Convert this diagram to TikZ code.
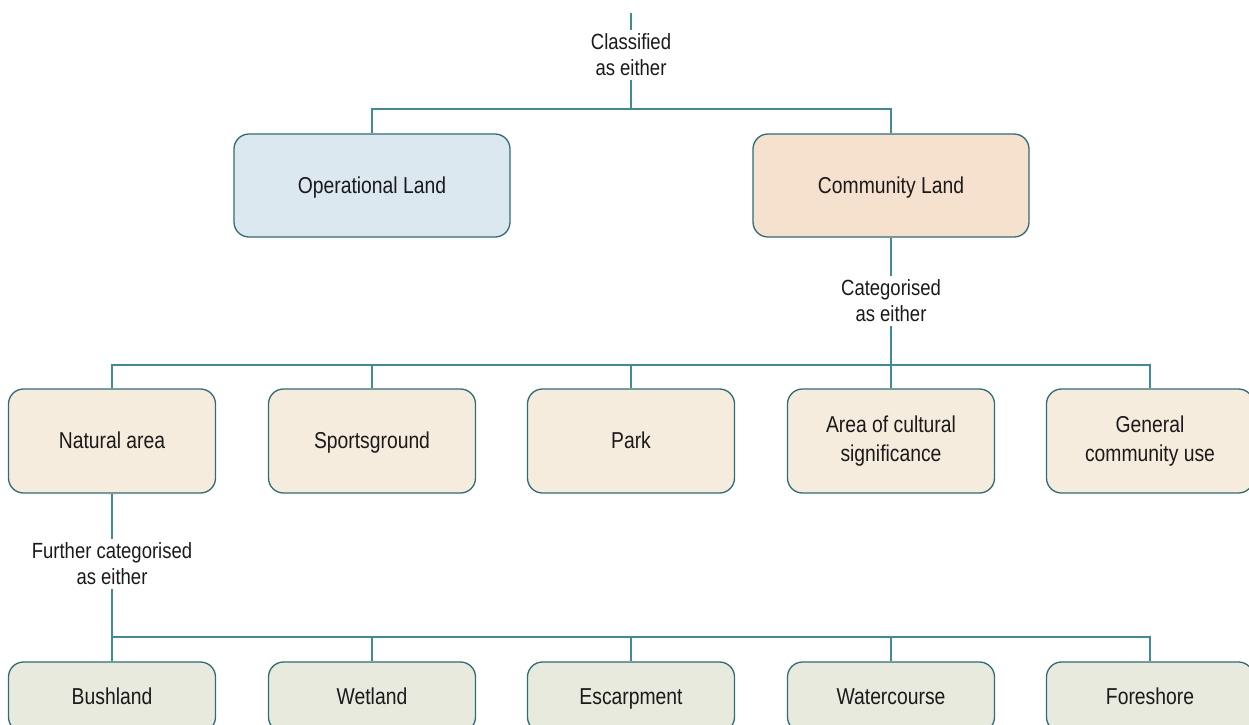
\documentclass[tikz,border=0pt]{standalone}
\usepackage{fontspec}
\setmainfont{Liberation Sans}[FakeStretch=0.84]
\definecolor{border}{HTML}{2E6C76}
\definecolor{conn}{HTML}{3F8C98}
\definecolor{opfill}{HTML}{DCE8F0}
\definecolor{comfill}{HTML}{F6E1CF}
\definecolor{catfill}{HTML}{F6ECDD}
\definecolor{subfill}{HTML}{E7EADC}
\definecolor{txt}{HTML}{1A1A1A}
\tikzset{
  box/.style={draw=border, line width=1.3pt, rounded corners=15pt, align=center,
    text=txt, font=\fontsize{23}{29}\selectfont, inner sep=0pt},
  oneline/.style={text height=18pt, text depth=2.5pt},
  bigbox/.style={box, oneline, minimum width=276pt, minimum height=103pt},
  smallbox/.style={box, minimum width=207pt, minimum height=104pt},
  lowbox/.style={box, oneline, minimum width=207pt, minimum height=70pt, fill=subfill},
  lbl/.style={align=center, text=txt, font=\fontsize{22}{26}\selectfont, inner sep=4pt},
  link/.style={draw=conn, line width=1.3pt}
}
\begin{document}
\begin{tikzpicture}[x=1pt,y=-1pt]
\useasboundingbox (0,0) rectangle (1249,724);
\coordinate (top) at (631,13);
\coordinate (j1) at (631,109);
\coordinate (j2) at (891,365);
\coordinate (j3) at (112,637);
\node[lbl] (cls) at (631,55) {Classified\\as either};
\node[bigbox, fill=opfill] (op) at (372,185.5) {Operational Land};
\node[bigbox, fill=comfill] (com) at (891,185.5) {Community Land};
\node[lbl] (cat) at (891,301) {Categorised\\as either};
\node[smallbox, oneline, fill=catfill] (c1) at (112,441) {Natural area};
\node[smallbox, oneline, fill=catfill] (c2) at (372,441) {Sportsground};
\node[smallbox, oneline, fill=catfill] (c3) at (631,441) {Park};
\node[smallbox, fill=catfill] (c4) at (891,441) {Area of cultural\\significance};
\node[smallbox, fill=catfill] (c5) at (1150,441) {General\\community use};
\node[lbl] (fur) at (112,564) {Further categorised\\as either};
\node[lowbox] (b1) at (112,697) {Bushland};
\node[lowbox] (b2) at (372,697) {Wetland};
\node[lowbox] (b3) at (631,697) {Escarpment};
\node[lowbox] (b4) at (891,697) {Watercourse};
\node[lowbox] (b5) at (1150,697) {Foreshore};
\draw[link] (top) -- (cls.north);
\draw[link] (cls.south) -- (j1);
\draw[link] (op.north) |- (j1) -| (com.north);
\draw[link] (com.south) -- (cat.north);
\draw[link] (cat.south) -- (c4.north);
\draw[link] (c1.north) |- (j2) -| (c5.north);
\draw[link] (c2.north) -- (c2.north |- j2);
\draw[link] (c3.north) -- (c3.north |- j2);
\draw[link] (c1.south) -- (fur.north);
\draw[link] (fur.south) -- (b1.north);
\draw[link] (j3) -| (b5.north);
\draw[link] (b2.north) -- (b2.north |- j3);
\draw[link] (b3.north) -- (b3.north |- j3);
\draw[link] (b4.north) -- (b4.north |- j3);
\end{tikzpicture}
\end{document}
